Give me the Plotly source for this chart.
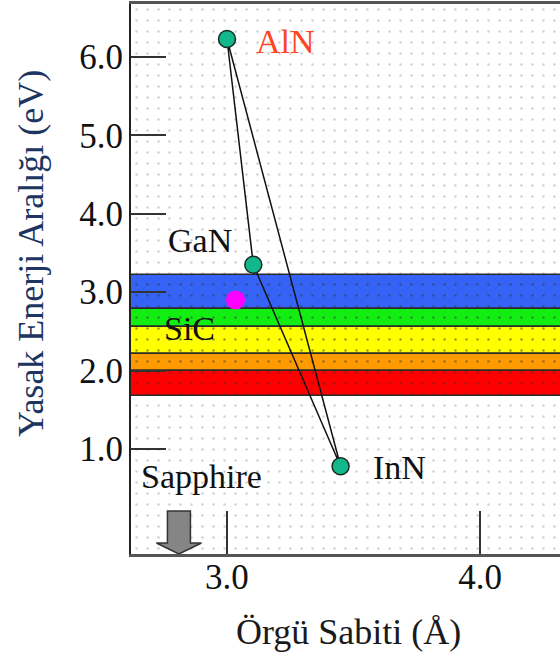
import plotly.graph_objects as go

# ---- data ----
compounds = ["AlN", "GaN", "InN"]
lattice_a = [3.00, 3.104, 3.449]      # Å
band_gap = [6.23, 3.35, 0.78]         # eV

extra_a = [3.034]                     # magenta point
extra_gap = [2.90]

band_low = [2.78, 2.55, 2.21, 2.00, 1.67]
band_high = [3.22, 2.78, 2.55, 2.21, 2.00]
band_colors = ["#3563F5", "#12EE12", "#FFFF00", "#FF9A00", "#FF0000"]

substrate_label = "Sapphire"
substrate_a = 2.81

sic_label = "SiC"
sic_pos = (2.850, 2.543)

x_tickvals = [3.0, 4.0]
x_ticktext = ["3.0", "4.0"]
y_tickvals = [1, 2, 3, 4, 5, 6]
y_ticktext = ["1.0", "2.0", "3.0", "4.0", "5.0", "6.0"]

X_RANGE = [2.6206, 4.3162]
Y_RANGE = [-0.339, 6.676]

FONT = "Liberation Serif"

fig = go.Figure()

# dotted background
fig.add_trace(go.Bar(
    orientation="h",
    y=[(Y_RANGE[0] + Y_RANGE[1]) / 2], width=[Y_RANGE[1] - Y_RANGE[0]],
    x=[X_RANGE[1] - X_RANGE[0] + 1], base=[X_RANGE[0]],
    marker=dict(color="white", line=dict(width=0),
                pattern=dict(shape=".", fgcolor="#a0a0a0", size=11,
                             solidity=0.04, fillmode="overlay")),
    hoverinfo="skip", showlegend=False))

# colour bands
for lo, hi, c in zip(band_low, band_high, band_colors):
    fig.add_trace(go.Bar(
        orientation="h",
        y=[(lo + hi) / 2], width=[hi - lo],
        x=[X_RANGE[1] - X_RANGE[0] + 1], base=[X_RANGE[0]],
        marker=dict(color=c, line=dict(width=1.5, color="#2a2a2a"),
                    pattern=dict(shape=".", fgcolor="#333", size=11,
                                 solidity=0.04, fillmode="overlay")),
        hoverinfo="skip", showlegend=False))

# triangle connecting the nitrides
fig.add_trace(go.Scatter(
    x=lattice_a + [lattice_a[0]], y=band_gap + [band_gap[0]],
    mode="lines", line=dict(color="#111", width=1.5),
    hoverinfo="skip", showlegend=False))

fig.add_trace(go.Scatter(
    x=extra_a, y=extra_gap, mode="markers",
    marker=dict(size=19, color="#FF00FF", line=dict(width=0)),
    hoverinfo="skip", showlegend=False))

fig.add_trace(go.Scatter(
    x=lattice_a, y=band_gap, mode="markers",
    marker=dict(size=17, color="#12B88C", line=dict(width=1.5, color="#1a2a22")),
    hoverinfo="skip", showlegend=False))

# labels
label_style = {
    "AlN": dict(xshift=27, yshift=-3, xanchor="left", color="#FF4422"),
    "GaN": dict(xshift=-53, yshift=24, xanchor="center", color="#111"),
    "InN": dict(xshift=30, yshift=-1, xanchor="left", color="#111"),
}
for name, xa, gap in zip(compounds, lattice_a, band_gap):
    st = label_style[name]
    fig.add_annotation(x=xa, y=gap, text=name, showarrow=False,
                       xshift=st["xshift"], yshift=st["yshift"],
                       xanchor=st["xanchor"], yanchor="middle",
                       font=dict(family=FONT, size=34, color=st["color"]))

fig.add_annotation(x=sic_pos[0], y=sic_pos[1], text=sic_label, showarrow=False,
                   xanchor="center", yanchor="middle",
                   font=dict(family=FONT, size=34, color="#111"))

fig.add_annotation(x=substrate_a, y=Y_RANGE[0], text=substrate_label, showarrow=False,
                   xshift=23, yshift=78, xanchor="center", yanchor="middle",
                   font=dict(family=FONT, size=34, color="#111"))

# sapphire arrow (pixel-sized, anchored at substrate lattice constant)
fig.add_shape(type="path", xref="x", yref="y",
              xsizemode="pixel", ysizemode="pixel",
              xanchor=substrate_a, yanchor=Y_RANGE[0],
              path="M -11.5 43 L 11.5 43 L 11.5 11 L 22.5 11 L 0 0 L -22.5 11 L -11.5 11 Z",
              fillcolor="#858585", line=dict(color="#333", width=1.5), layer="above")

# axis titles
fig.add_annotation(xref="paper", yref="paper", x=(31 - 131) / 429, y=(554 - 254) / 550,
                   text="Yasak Enerji Aralığı (eV)", textangle=-90, showarrow=False,
                   xanchor="center", yanchor="middle",
                   font=dict(family=FONT, size=36, color="#1d3560"))
fig.add_annotation(xref="paper", yref="paper", x=(348 - 131) / 429, y=(554 - 632) / 550,
                   text="Örgü Sabiti (Å)", showarrow=False,
                   xanchor="center", yanchor="middle",
                   font=dict(family=FONT, size=36, color="#1a1a1a"))

fig.update_layout(
    width=560, height=659,
    margin=dict(l=131, r=0, t=4, b=105),
    paper_bgcolor="white", plot_bgcolor="white",
    barmode="overlay", bargap=0,
    showlegend=False,
    xaxis=dict(range=X_RANGE, tickvals=x_tickvals, ticktext=x_ticktext,
               ticks="inside", ticklen=43, tickwidth=2, tickcolor="#333",
               showgrid=False, zeroline=False,
               showline=True, linecolor="#555", linewidth=3, mirror=True,
               ticklabelstandoff=-10,
               tickfont=dict(family=FONT, size=35, color="#111")),
    yaxis=dict(range=Y_RANGE, tickvals=y_tickvals, ticktext=y_ticktext,
               ticks="inside", ticklen=35, tickwidth=2, tickcolor="#333",
               showgrid=False, zeroline=False,
               showline=True, linecolor="#222", linewidth=2, mirror=False,
               ticklabelstandoff=-1,
               tickfont=dict(family=FONT, size=35, color="#111")),
)

fig.write_html("out.html")
